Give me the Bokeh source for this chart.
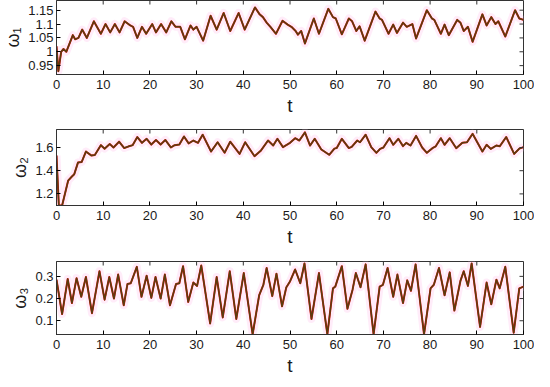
import math
from bokeh.plotting import figure
from bokeh.layouts import column
from bokeh.models import FixedTicker, Range1d
from bokeh.embed import file_html
from bokeh.resources import INLINE

# ---- data ----
t1 = [0, 0.4, 1.0, 1.5, 2.1, 3.5, 4.0, 4.7, 5.5, 6.5, 8.0, 9.5, 10.5, 11.5, 12.5, 13.5, 14.6, 15.8, 16.4, 17.3,
      18.3, 19.2, 20.5, 21.3, 22.4, 23.5, 24.6, 25.5, 26.5, 27.5, 28.7, 29.3, 30.0, 31.4, 33.0, 34.3, 35.8, 37.2,
      39.0, 40.3, 42.5, 43.5, 44.2, 45.0, 45.8, 47.0, 48.4, 49.5, 50.3, 51.2, 51.7, 52.4, 53.2, 55.1, 56.2, 58.2,
      59.2, 59.8, 61.1, 62.6, 63.3, 64.2, 64.9, 66.0, 68.3, 69.2, 69.7, 71.1, 72.1, 72.9, 74.2, 75.0, 76.2, 77.0,
      79.3, 80.4, 80.9, 82.3, 83.1, 84.0, 85.8, 86.5, 87.2, 88.1, 89.1, 91.2, 92.1, 93.1, 94.0, 94.6, 96.1, 98.2,
      99.1, 100]
w1 = [1.02, 0.93, 1.0, 1.01, 1.0, 1.06, 1.045, 1.05, 1.08, 1.05, 1.11, 1.065, 1.10, 1.07, 1.10, 1.07, 1.11, 1.095,
      1.09, 1.05, 1.09, 1.065, 1.10, 1.07, 1.10, 1.07, 1.11, 1.09, 1.09, 1.045, 1.095, 1.08, 1.09, 1.04, 1.13, 1.08,
      1.14, 1.075, 1.14, 1.08, 1.16, 1.135, 1.125, 1.105, 1.09, 1.065, 1.112, 1.098, 1.09, 1.075, 1.062, 1.075, 1.03,
      1.12, 1.065, 1.155, 1.125, 1.12, 1.063, 1.12, 1.11, 1.075, 1.092, 1.04, 1.145, 1.12, 1.115, 1.065, 1.098, 1.068,
      1.105, 1.09, 1.10, 1.048, 1.15, 1.12, 1.115, 1.065, 1.098, 1.06, 1.115, 1.105, 1.075, 1.09, 1.036, 1.135, 1.095,
      1.125, 1.10, 1.11, 1.055, 1.15, 1.12, 1.115]

t2 = [0, 0.5, 1.2, 2.5, 3.3, 3.8, 4.6, 5.4, 6.3, 7.5, 8.2, 9.5, 10.3, 11.4, 12.2, 13.4, 14.5, 15.5, 16.3, 17.3,
      18.3, 19.3, 20.3, 21.3, 22.3, 23.3, 24.5, 25.3, 26.3, 27.3, 28.3, 29.3, 30.3, 31.3, 33.1, 34.5, 36.0, 37.2,
      39.2, 40.4, 42.4, 43.8, 45.3, 46.4, 47.3, 48.5, 50.0, 51.1, 52.0, 53.2, 54.3, 55.3, 56.7, 58.4, 59.5, 60.0,
      61.1, 62.6, 63.2, 64.4, 65.0, 66.2, 67.4, 68.5, 69.3, 70.0, 71.3, 72.1, 73.2, 74.2, 74.9, 75.8, 77.0, 78.3,
      79.3, 80.5, 81.2, 82.3, 83.1, 84.2, 85.6, 86.9, 87.9, 89.1, 91.2, 92.1, 93.0, 94.2, 94.9, 96.3, 98.0, 99.1, 100]
w2 = [1.53, 1.10, 1.10, 1.315, 1.35, 1.37, 1.47, 1.475, 1.565, 1.53, 1.535, 1.62, 1.59, 1.63, 1.60, 1.65, 1.595,
      1.61, 1.62, 1.69, 1.64, 1.675, 1.625, 1.665, 1.625, 1.665, 1.60, 1.62, 1.625, 1.695, 1.635, 1.66, 1.64, 1.71,
      1.565, 1.645, 1.555, 1.65, 1.545, 1.645, 1.525, 1.575, 1.66, 1.617, 1.675, 1.603, 1.64, 1.68, 1.66, 1.73, 1.617,
      1.675, 1.583, 1.537, 1.59, 1.595, 1.675, 1.595, 1.605, 1.66, 1.645, 1.71, 1.603, 1.554, 1.588, 1.60, 1.68,
      1.623, 1.675, 1.612, 1.64, 1.617, 1.70, 1.60, 1.554, 1.594, 1.61, 1.68, 1.623, 1.68, 1.594, 1.64, 1.645, 1.718,
      1.565, 1.623, 1.588, 1.617, 1.61, 1.69, 1.545, 1.59, 1.603]

t3 = [0, 1.2, 2.4, 3.3, 4.3, 5.3, 6.3, 7.6, 9.2, 10.3, 11.3, 12.3, 13.2, 14.4, 15.2, 15.9, 17.2, 18.2, 19.3, 20.3,
      21.2, 22.3, 23.2, 24.3, 25.6, 26.3, 27.1, 28.2, 29.3, 30.1, 31.0, 32.9, 34.3, 35.6, 37.1, 38.5, 40.1, 42.0,
      43.4, 44.3, 45.0, 46.2, 47.1, 48.3, 49.2, 50.0, 51.1, 52.2, 53.1, 54.6, 56.2, 58.0, 59.2, 59.7, 61.1, 62.3,
      63.4, 64.1, 65.1, 66.2, 67.9, 69.2, 69.9, 70.9, 72.1, 73.0, 74.2, 75.1, 75.9, 76.9, 78.7, 80.1, 80.8, 81.9,
      83.1, 84.2, 85.2, 86.5, 87.2, 88.1, 88.9, 90.7, 92.1, 93.1, 94.2, 94.9, 96.1, 97.9, 99.1, 100]
w3 = [0.285, 0.13, 0.288, 0.18, 0.292, 0.208, 0.297, 0.134, 0.323, 0.195, 0.297, 0.20, 0.308, 0.17, 0.266, 0.269,
      0.343, 0.208, 0.303, 0.203, 0.297, 0.20, 0.308, 0.17, 0.266, 0.269, 0.346, 0.185, 0.272, 0.257, 0.349, 0.088,
      0.297, 0.115, 0.323, 0.108, 0.315, 0.039, 0.215, 0.262, 0.338, 0.211, 0.312, 0.165, 0.25, 0.277, 0.331, 0.269,
      0.358, 0.108, 0.315, 0.039, 0.246, 0.254, 0.346, 0.154, 0.24, 0.315, 0.251, 0.354, 0.039, 0.254, 0.262, 0.338,
      0.208, 0.308, 0.18, 0.282, 0.235, 0.354, 0.039, 0.246, 0.262, 0.338, 0.215, 0.318, 0.146, 0.28, 0.323, 0.257,
      0.358, 0.072, 0.272, 0.174, 0.285, 0.246, 0.343, 0.046, 0.246, 0.254]

x_ticks = [0, 10, 20, 30, 40, 50, 60, 70, 80, 90, 100]
y1_ticks = [0.95, 1.0, 1.05, 1.1, 1.15]
y1_labels = ["0.95", "1", "1.05", "1.1", "1.15"]
y2_ticks = [1.2, 1.4, 1.6]
y2_labels = ["1.2", "1.4", "1.6"]
y3_ticks = [0.1, 0.2, 0.3]
y3_labels = ["0.1", "0.2", "0.3"]

FONT = "Liberation Sans"
TXT = "#1a1a1a"
FRAME = "#333333"


def make(t, w, yr, yt, yl, ylabel, height, bottom):
    p = figure(width=534, height=height, x_range=Range1d(0, 100), y_range=Range1d(*yr),
               output_backend="svg", toolbar_location=None,
               min_border_left=47, min_border_right=11, min_border_top=0, min_border_bottom=bottom)
    p.grid.visible = False
    p.outline_line_color = FRAME
    p.outline_line_width = 1
    p.background_fill_color = "white"
    p.border_fill_color = "white"

    p.line(t, w, line_color="#ffc8ee", line_width=8, line_alpha=0.35, line_join="round")
    p.line(t, w, line_color="#dd1010", line_width=2.0, line_join="round")
    p.line(t, w, line_color="#5a3d0e", line_width=1.5, line_join="round")

    # mirrored inside ticks on top and right edges
    p.ray(x=x_ticks, y=[yr[1]] * len(x_ticks), length=4, length_units="screen",
          angle=-math.pi / 2, line_color=FRAME, line_width=1)
    p.ray(x=[100] * len(yt), y=yt, length=4, length_units="screen",
          angle=math.pi, line_color=FRAME, line_width=1)

    xa = p.xaxis[0]
    xa.ticker = FixedTicker(ticks=x_ticks)
    xa.axis_label = "t"
    xa.axis_label_text_font = FONT
    xa.axis_label_text_font_size = "19px"
    xa.axis_label_text_font_style = "normal"
    xa.axis_label_text_color = TXT
    xa.axis_label_standoff = 3
    xa.major_label_text_font = FONT
    xa.major_label_text_font_size = "13px"
    xa.major_label_text_color = TXT
    xa.major_label_standoff = 5
    xa.major_tick_in = 4
    xa.major_tick_out = 0
    xa.minor_tick_line_color = None
    xa.axis_line_color = FRAME

    ya = p.yaxis[0]
    ya.ticker = FixedTicker(ticks=yt)
    ya.major_label_overrides = {v: s for v, s in zip(yt, yl)}
    ya.axis_label = ylabel
    ya.axis_label_text_font = FONT
    ya.axis_label_text_font_size = "18px"
    ya.axis_label_text_font_style = "normal"
    ya.axis_label_text_color = TXT
    ya.axis_label_standoff = 2
    ya.major_label_text_font = FONT
    ya.major_label_text_font_size = "13px"
    ya.major_label_text_color = TXT
    ya.major_label_standoff = 3
    ya.major_tick_in = 4
    ya.major_tick_out = 0
    ya.minor_tick_line_color = None
    ya.axis_line_color = FRAME
    return p


p1 = make(t1, w1, (0.918, 1.185), y1_ticks, y1_labels, "ω₁", 129, 55)
p2 = make(t2, w2, (1.10, 1.755), y2_ticks, y2_labels, "ω₂", 132, 56)
p3 = make(t3, w3, (0.038, 0.367), y3_ticks, y3_labels, "ω₃", 117, 42)

layout = column(p1, p2, p3, spacing=0)
open("out.html", "w").write(file_html(layout, INLINE))
